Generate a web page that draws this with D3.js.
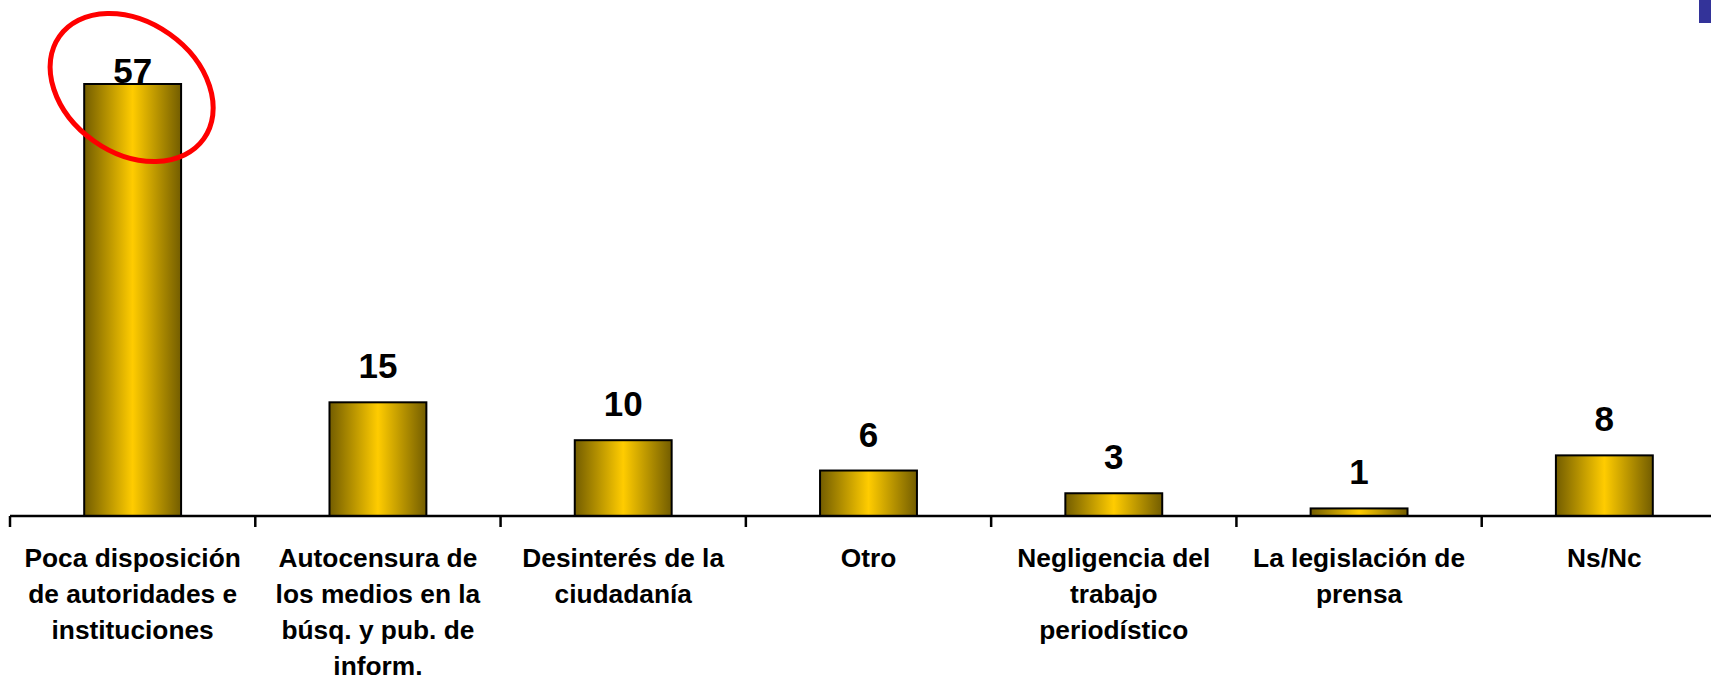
<!DOCTYPE html>
<html>
<head>
<meta charset="utf-8">
<script src="https://cdn.jsdelivr.net/npm/d3@7"></script>
<style>
  html, body { margin: 0; padding: 0; background: #ffffff; }
  svg { display: block; }
</style>
</head>
<body>
<svg id="chart" width="1711" height="681"></svg>
<script>
const categories = [
  "Poca disposición de autoridades e instituciones",
  "Autocensura de los medios en la búsq. y pub. de inform.",
  "Desinterés de la ciudadanía",
  "Otro",
  "Negligencia del trabajo periodístico",
  "La legislación de prensa",
  "Ns/Nc"
];
const categoryLines = [
  ["Poca disposición", "de autoridades e", "instituciones"],
  ["Autocensura de", "los medios en la", "búsq. y pub. de", "inform."],
  ["Desinterés de la", "ciudadanía"],
  ["Otro"],
  ["Negligencia del", "trabajo", "periodístico"],
  ["La legislación de", "prensa"],
  ["Ns/Nc"]
];
const values = [57, 15, 10, 6, 3, 1, 8];
const highlighted = ["Poca disposición de autoridades e instituciones"];

const W = 1711, H = 681;
const svg = d3.select("#chart");
const font = "'Liberation Sans', Arial, Helvetica, sans-serif";

const baseY = 516;
const x = d3.scaleBand().domain(categories).range([10, 1727]).padding(0);
const barW = x.bandwidth() * 0.395;
const y = d3.scaleLinear().domain([0, 57]).range([baseY, 84]);

// gradient
const defs = svg.append("defs");
const grad = defs.append("linearGradient").attr("id", "barGrad")
  .attr("x1", "0%").attr("x2", "100%").attr("y1", "0%").attr("y2", "0%");
grad.append("stop").attr("offset", "0%").attr("stop-color", "#735d00");
grad.append("stop").attr("offset", "50%").attr("stop-color", "#ffcc00");
grad.append("stop").attr("offset", "100%").attr("stop-color", "#735d00");

const data = categories.map((c, i) => ({ c, v: values[i], lines: categoryLines[i] }));

// bars
svg.append("g").selectAll("rect").data(data).join("rect")
  .attr("x", d => x(d.c) + (x.bandwidth() - barW) / 2)
  .attr("y", d => y(d.v))
  .attr("width", barW)
  .attr("height", d => baseY - y(d.v))
  .attr("fill", "url(#barGrad)")
  .attr("stroke", "#000")
  .attr("stroke-width", 2);

// axis line and ticks at category boundaries
const ax = svg.append("g");
ax.append("line").attr("x1", 10).attr("x2", W).attr("y1", baseY).attr("y2", baseY)
  .attr("stroke", "#000").attr("stroke-width", 2.5);
const bounds = categories.map(c => x(c)).concat([x.range()[1]]);
ax.selectAll("line.tick").data(bounds).join("line").attr("class", "tick")
  .attr("x1", d => d).attr("x2", d => d)
  .attr("y1", baseY).attr("y2", baseY + 11)
  .attr("stroke", "#000").attr("stroke-width", 2.5);

// value labels
svg.append("g").selectAll("text").data(data).join("text")
  .attr("x", d => x(d.c) + x.bandwidth() / 2)
  .attr("y", d => Math.max(y(d.v) - 24, 83))
  .attr("text-anchor", "middle")
  .attr("font-family", font)
  .attr("font-weight", "bold")
  .attr("font-size", 35)
  .attr("fill", "#000")
  .text(d => d.v);

// category labels
const cl = svg.append("g").selectAll("text").data(data).join("text")
  .attr("text-anchor", "middle")
  .attr("font-family", font)
  .attr("font-weight", "bold")
  .attr("font-size", 26.3)
  .attr("fill", "#000");
cl.each(function(d) {
  const t = d3.select(this);
  d.lines.forEach((ln, i) => {
    t.append("tspan")
      .attr("x", x(d.c) + x.bandwidth() / 2)
      .attr("y", 566.5 + i * 36.3)
      .text(ln);
  });
});

// highlight ellipse
svg.append("g").selectAll("ellipse").data(data.filter(d => highlighted.includes(d.c))).join("ellipse")
  .attr("transform", d => `translate(${x(d.c) + x.bandwidth() / 2 - 1},${y(d.v) + 3.5}) rotate(35.3)`)
  .attr("rx", 88.5).attr("ry", 65.5)
  .attr("fill", "none").attr("stroke", "#ff0000").attr("stroke-width", 5);

// corner decoration
svg.append("rect").attr("x", 1699).attr("y", 0).attr("width", 12).attr("height", 23).attr("fill", "#333399");
</script>
</body>
</html>
